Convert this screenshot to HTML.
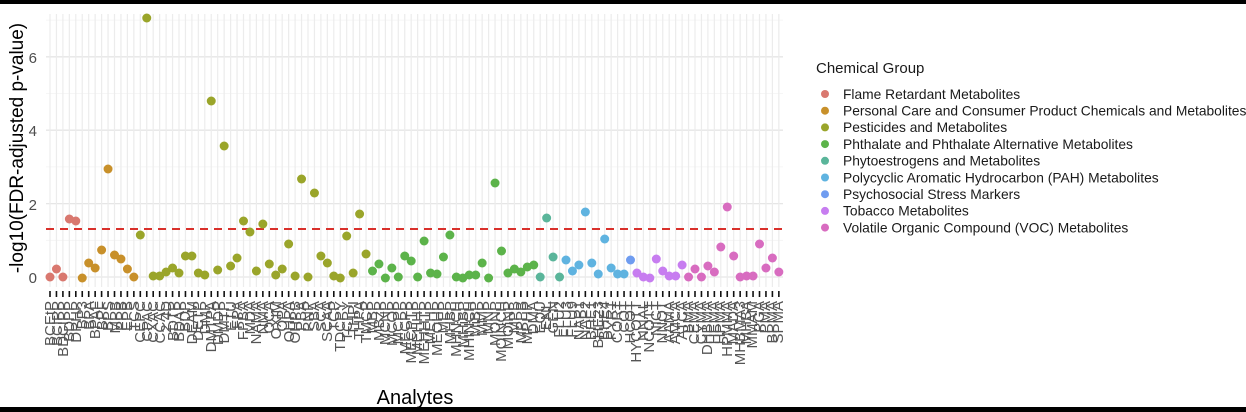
<!DOCTYPE html>
<html><head><meta charset="utf-8"><style>
html,body{margin:0;padding:0;background:#fff}
svg{display:block}
text{font-family:"Liberation Sans",sans-serif}
</style></head><body>
<svg width="1246" height="412" viewBox="0 0 1246 412" xmlns="http://www.w3.org/2000/svg">
<rect x="0" y="0" width="1246" height="412" fill="#fff"/>
<g id="grid"></g>
<g id="pts"></g>
<g id="labs" font-size="15" fill="#555">
<text x="55" y="301" text-anchor="end" transform="rotate(-90 55 301)">BCEtP</text>
<text x="62" y="301" text-anchor="end" transform="rotate(-90 62 301)">BCIPP</text>
<text x="68" y="301" text-anchor="end" transform="rotate(-90 68 301)">BDCIPP</text>
<text x="74" y="301" text-anchor="end" transform="rotate(-90 74 301)">BDPP</text>
<text x="81" y="301" text-anchor="end" transform="rotate(-90 81 301)">DPHP</text>
<text x="87" y="301" text-anchor="end" transform="rotate(-90 87 301)">BP3</text>
<text x="94" y="301" text-anchor="end" transform="rotate(-90 94 301)">BPA</text>
<text x="100" y="301" text-anchor="end" transform="rotate(-90 100 301)">BPAF</text>
<text x="107" y="301" text-anchor="end" transform="rotate(-90 107 301)">BPF</text>
<text x="113" y="301" text-anchor="end" transform="rotate(-90 113 301)">BPS</text>
<text x="120" y="301" text-anchor="end" transform="rotate(-90 120 301)">MPB</text>
<text x="126" y="301" text-anchor="end" transform="rotate(-90 126 301)">PPB</text>
<text x="132" y="301" text-anchor="end" transform="rotate(-90 132 301)">EPB</text>
<text x="139" y="301" text-anchor="end" transform="rotate(-90 139 301)">TCS</text>
<text x="145" y="301" text-anchor="end" transform="rotate(-90 145 301)">CEPC</text>
<text x="152" y="301" text-anchor="end" transform="rotate(-90 152 301)">CPAC</text>
<text x="158" y="301" text-anchor="end" transform="rotate(-90 158 301)">CXAC</text>
<text x="165" y="301" text-anchor="end" transform="rotate(-90 165 301)">CCAC</text>
<text x="171" y="301" text-anchor="end" transform="rotate(-90 171 301)">2,4D</text>
<text x="178" y="301" text-anchor="end" transform="rotate(-90 178 301)">BDTP</text>
<text x="184" y="301" text-anchor="end" transform="rotate(-90 184 301)">BDAP</text>
<text x="190" y="301" text-anchor="end" transform="rotate(-90 190 301)">BDP</text>
<text x="197" y="301" text-anchor="end" transform="rotate(-90 197 301)">DEAM</text>
<text x="203" y="301" text-anchor="end" transform="rotate(-90 203 301)">DETP</text>
<text x="210" y="301" text-anchor="end" transform="rotate(-90 210 301)">DMP</text>
<text x="216" y="301" text-anchor="end" transform="rotate(-90 216 301)">DMTPA</text>
<text x="223" y="301" text-anchor="end" transform="rotate(-90 223 301)">DMDP</text>
<text x="229" y="301" text-anchor="end" transform="rotate(-90 229 301)">DMTP</text>
<text x="236" y="301" text-anchor="end" transform="rotate(-90 236 301)">ETU</text>
<text x="242" y="301" text-anchor="end" transform="rotate(-90 242 301)">FPA</text>
<text x="248" y="301" text-anchor="end" transform="rotate(-90 248 301)">FPBA</text>
<text x="255" y="301" text-anchor="end" transform="rotate(-90 255 301)">MDA</text>
<text x="261" y="301" text-anchor="end" transform="rotate(-90 261 301)">NAMA</text>
<text x="268" y="301" text-anchor="end" transform="rotate(-90 268 301)">NMA</text>
<text x="274" y="301" text-anchor="end" transform="rotate(-90 274 301)">OCA</text>
<text x="281" y="301" text-anchor="end" transform="rotate(-90 281 301)">OXIM</text>
<text x="287" y="301" text-anchor="end" transform="rotate(-90 287 301)">OPA</text>
<text x="294" y="301" text-anchor="end" transform="rotate(-90 294 301)">OHPA</text>
<text x="300" y="301" text-anchor="end" transform="rotate(-90 300 301)">OHPB</text>
<text x="306" y="301" text-anchor="end" transform="rotate(-90 306 301)">PBA</text>
<text x="313" y="301" text-anchor="end" transform="rotate(-90 313 301)">PNP</text>
<text x="319" y="301" text-anchor="end" transform="rotate(-90 319 301)">SBA</text>
<text x="326" y="301" text-anchor="end" transform="rotate(-90 326 301)">SCA</text>
<text x="332" y="301" text-anchor="end" transform="rotate(-90 332 301)">SCAA</text>
<text x="339" y="301" text-anchor="end" transform="rotate(-90 339 301)">TCP</text>
<text x="345" y="301" text-anchor="end" transform="rotate(-90 345 301)">TDCPY</text>
<text x="352" y="301" text-anchor="end" transform="rotate(-90 352 301)">TCPY</text>
<text x="358" y="301" text-anchor="end" transform="rotate(-90 358 301)">THPI</text>
<text x="364" y="301" text-anchor="end" transform="rotate(-90 364 301)">THPA</text>
<text x="371" y="301" text-anchor="end" transform="rotate(-90 371 301)">TMCP</text>
<text x="377" y="301" text-anchor="end" transform="rotate(-90 377 301)">MBP</text>
<text x="384" y="301" text-anchor="end" transform="rotate(-90 384 301)">MBzP</text>
<text x="390" y="301" text-anchor="end" transform="rotate(-90 390 301)">MCNP</text>
<text x="397" y="301" text-anchor="end" transform="rotate(-90 397 301)">MCOP</text>
<text x="403" y="301" text-anchor="end" transform="rotate(-90 403 301)">MCPP</text>
<text x="410" y="301" text-anchor="end" transform="rotate(-90 410 301)">MECPP</text>
<text x="416" y="301" text-anchor="end" transform="rotate(-90 416 301)">MECPTP</text>
<text x="422" y="301" text-anchor="end" transform="rotate(-90 422 301)">MEHHP</text>
<text x="429" y="301" text-anchor="end" transform="rotate(-90 429 301)">MEHHTP</text>
<text x="435" y="301" text-anchor="end" transform="rotate(-90 435 301)">MEHP</text>
<text x="442" y="301" text-anchor="end" transform="rotate(-90 442 301)">MEOHP</text>
<text x="448" y="301" text-anchor="end" transform="rotate(-90 448 301)">MEP</text>
<text x="455" y="301" text-anchor="end" transform="rotate(-90 455 301)">MHBP</text>
<text x="461" y="301" text-anchor="end" transform="rotate(-90 461 301)">MHNCH</text>
<text x="468" y="301" text-anchor="end" transform="rotate(-90 468 301)">MHiBP</text>
<text x="474" y="301" text-anchor="end" transform="rotate(-90 474 301)">MHINCH</text>
<text x="480" y="301" text-anchor="end" transform="rotate(-90 480 301)">MiBP</text>
<text x="487" y="301" text-anchor="end" transform="rotate(-90 487 301)">MMP</text>
<text x="493" y="301" text-anchor="end" transform="rotate(-90 493 301)">MNP</text>
<text x="500" y="301" text-anchor="end" transform="rotate(-90 500 301)">MONP</text>
<text x="506" y="301" text-anchor="end" transform="rotate(-90 506 301)">MOINCH</text>
<text x="513" y="301" text-anchor="end" transform="rotate(-90 513 301)">MOiNP</text>
<text x="519" y="301" text-anchor="end" transform="rotate(-90 519 301)">MPB</text>
<text x="526" y="301" text-anchor="end" transform="rotate(-90 526 301)">MPPB</text>
<text x="532" y="301" text-anchor="end" transform="rotate(-90 532 301)">MPHP</text>
<text x="538" y="301" text-anchor="end" transform="rotate(-90 538 301)">DMA</text>
<text x="545" y="301" text-anchor="end" transform="rotate(-90 545 301)">EQU</text>
<text x="551" y="301" text-anchor="end" transform="rotate(-90 551 301)">ENL</text>
<text x="558" y="301" text-anchor="end" transform="rotate(-90 558 301)">GEN</text>
<text x="564" y="301" text-anchor="end" transform="rotate(-90 564 301)">FLU2</text>
<text x="571" y="301" text-anchor="end" transform="rotate(-90 571 301)">FLU3</text>
<text x="577" y="301" text-anchor="end" transform="rotate(-90 577 301)">FLU9</text>
<text x="584" y="301" text-anchor="end" transform="rotate(-90 584 301)">NAP1</text>
<text x="590" y="301" text-anchor="end" transform="rotate(-90 590 301)">NAP2</text>
<text x="596" y="301" text-anchor="end" transform="rotate(-90 596 301)">BHE1</text>
<text x="603" y="301" text-anchor="end" transform="rotate(-90 603 301)">BHE23</text>
<text x="609" y="301" text-anchor="end" transform="rotate(-90 609 301)">BHE4</text>
<text x="616" y="301" text-anchor="end" transform="rotate(-90 616 301)">PYR1</text>
<text x="622" y="301" text-anchor="end" transform="rotate(-90 622 301)">CORT</text>
<text x="629" y="301" text-anchor="end" transform="rotate(-90 629 301)">COT</text>
<text x="635" y="301" text-anchor="end" transform="rotate(-90 635 301)">HCOT</text>
<text x="641" y="301" text-anchor="end" transform="rotate(-90 641 301)">HYCOTT</text>
<text x="648" y="301" text-anchor="end" transform="rotate(-90 648 301)">NNAL</text>
<text x="654" y="301" text-anchor="end" transform="rotate(-90 654 301)">NCOTT</text>
<text x="661" y="301" text-anchor="end" transform="rotate(-90 661 301)">NICT</text>
<text x="667" y="301" text-anchor="end" transform="rotate(-90 667 301)">NNOT</text>
<text x="674" y="301" text-anchor="end" transform="rotate(-90 674 301)">AAMA</text>
<text x="680" y="301" text-anchor="end" transform="rotate(-90 680 301)">AMCA</text>
<text x="687" y="301" text-anchor="end" transform="rotate(-90 687 301)">ATCA</text>
<text x="693" y="301" text-anchor="end" transform="rotate(-90 693 301)">BMA</text>
<text x="699" y="301" text-anchor="end" transform="rotate(-90 699 301)">CEMA</text>
<text x="706" y="301" text-anchor="end" transform="rotate(-90 706 301)">CYMA</text>
<text x="712" y="301" text-anchor="end" transform="rotate(-90 712 301)">DHBMA</text>
<text x="719" y="301" text-anchor="end" transform="rotate(-90 719 301)">HEMA</text>
<text x="725" y="301" text-anchor="end" transform="rotate(-90 725 301)">HPMA</text>
<text x="732" y="301" text-anchor="end" transform="rotate(-90 732 301)">HPMMA</text>
<text x="738" y="301" text-anchor="end" transform="rotate(-90 738 301)">MADA</text>
<text x="745" y="301" text-anchor="end" transform="rotate(-90 745 301)">MHBMA3</text>
<text x="751" y="301" text-anchor="end" transform="rotate(-90 751 301)">MHBA</text>
<text x="757" y="301" text-anchor="end" transform="rotate(-90 757 301)">MMAM</text>
<text x="764" y="301" text-anchor="end" transform="rotate(-90 764 301)">PGA</text>
<text x="770" y="301" text-anchor="end" transform="rotate(-90 770 301)">PMA</text>
<text x="777" y="301" text-anchor="end" transform="rotate(-90 777 301)">BPMA</text>
<text x="783" y="301" text-anchor="end" transform="rotate(-90 783 301)">SPMA</text>
</g>
<g font-size="15" fill="#4d4d4d" text-anchor="end">
<text x="37" y="283">0</text>
<text x="37" y="210">2</text>
<text x="37" y="136">4</text>
<text x="37" y="63">6</text>
</g>
<text x="23" y="148" font-size="19" fill="#000" text-anchor="middle" transform="rotate(-90 23 148)">-log10(FDR-adjusted p-value)</text>
<text x="415" y="404" font-size="20" fill="#000" text-anchor="middle">Analytes</text>
<g font-size="13.8" fill="#1a1a1a">
<text x="816" y="73" font-size="15">Chemical Group</text>
<circle cx="825" cy="94" r="4" fill="#d9786f"/><text x="843" y="98.8">Flame Retardant Metabolites</text>
<circle cx="825" cy="110.7" r="4" fill="#c8902a"/><text x="843" y="115.5">Personal Care and Consumer Product Chemicals and Metabolites</text>
<circle cx="825" cy="127.4" r="4" fill="#9aa52a"/><text x="843" y="132.2">Pesticides and Metabolites</text>
<circle cx="825" cy="144.1" r="4" fill="#5cb34a"/><text x="843" y="148.9">Phthalate and Phthalate Alternative Metabolites</text>
<circle cx="825" cy="160.8" r="4" fill="#5ab59a"/><text x="843" y="165.6">Phytoestrogens and Metabolites</text>
<circle cx="825" cy="177.5" r="4" fill="#5fb3e0"/><text x="843" y="182.3">Polycyclic Aromatic Hydrocarbon (PAH) Metabolites</text>
<circle cx="825" cy="194.2" r="4" fill="#6f9cf0"/><text x="843" y="199">Psychosocial Stress Markers</text>
<circle cx="825" cy="210.9" r="4" fill="#c77df0"/><text x="843" y="215.7">Tobacco Metabolites</text>
<circle cx="825" cy="227.6" r="4" fill="#d86cc0"/><text x="843" y="232.4">Volatile Organic Compound (VOC) Metabolites</text>
</g>
<rect x="0" y="0" width="1246" height="4" fill="#000"/>
<rect x="0" y="407" width="1246" height="5" fill="#000"/>
</svg>
<script>
(function(){
var ns="http://www.w3.org/2000/svg";
var ys=[277,269,277,219,221,278,263,268,250,169,255,259,269,277,235,18,276,276,272,268,273,256,256,273,275,101,270,146,266,258,221,232,271,224,264,275,269,244,276,179,277,193,256,263,276,278,236,273,214,254,271,264,278,268,277,256,261,277,241,273,274,257,235,277,278,275,275,263,278,183,251,273,269,272,267,265,277,218,257,277,260,271,265,212,263,274,239,268,274,274,260,273,277,278,259,271,276,276,265,277,269,277,266,272,247,207,256,277,276,276,244,268,258,272];
function col(i){if(i<5)return"#d9786f";if(i<14)return"#c8902a";if(i<50)return"#9aa52a";if(i<76)return"#5cb34a";if(i<80)return"#5ab59a";if(i<90)return"#5fb3e0";if(i<91)return"#6f9cf0";if(i<99)return"#c77df0";return"#d86cc0";}
var g=document.getElementById("grid"),p=document.getElementById("pts");
function el(par,t,a){var e=document.createElementNS(ns,t);for(var k in a)e.setAttribute(k,a[k]);par.appendChild(e);return e;}
for(var v=1;v<=7;v+=2){var y=277-v*36.7;el(g,"line",{x1:46,x2:783,y1:y,y2:y,stroke:"#f3f3f3","stroke-width":0.8});}
for(var v=0;v<=6;v+=2){var y=277-v*36.7;el(g,"line",{x1:46,x2:783,y1:y,y2:y,stroke:"#e6e6e6","stroke-width":1.3});}
for(var i=0;i<114;i++){var x=50+i*6.45;el(g,"line",{x1:x,x2:x,y1:14,y2:287,stroke:"#ececec","stroke-width":1.2});el(g,"line",{x1:x,x2:x,y1:291,y2:297,stroke:"#111","stroke-width":1.6});}
el(g,"line",{x1:46,x2:783,y1:229,y2:229,stroke:"#d9302b","stroke-width":2,"stroke-dasharray":"8,6"});
for(var i=0;i<114;i++){el(p,"circle",{cx:50+i*6.45,cy:ys[i],r:4.5,fill:col(i)});}
})();
</script>
</body></html>
